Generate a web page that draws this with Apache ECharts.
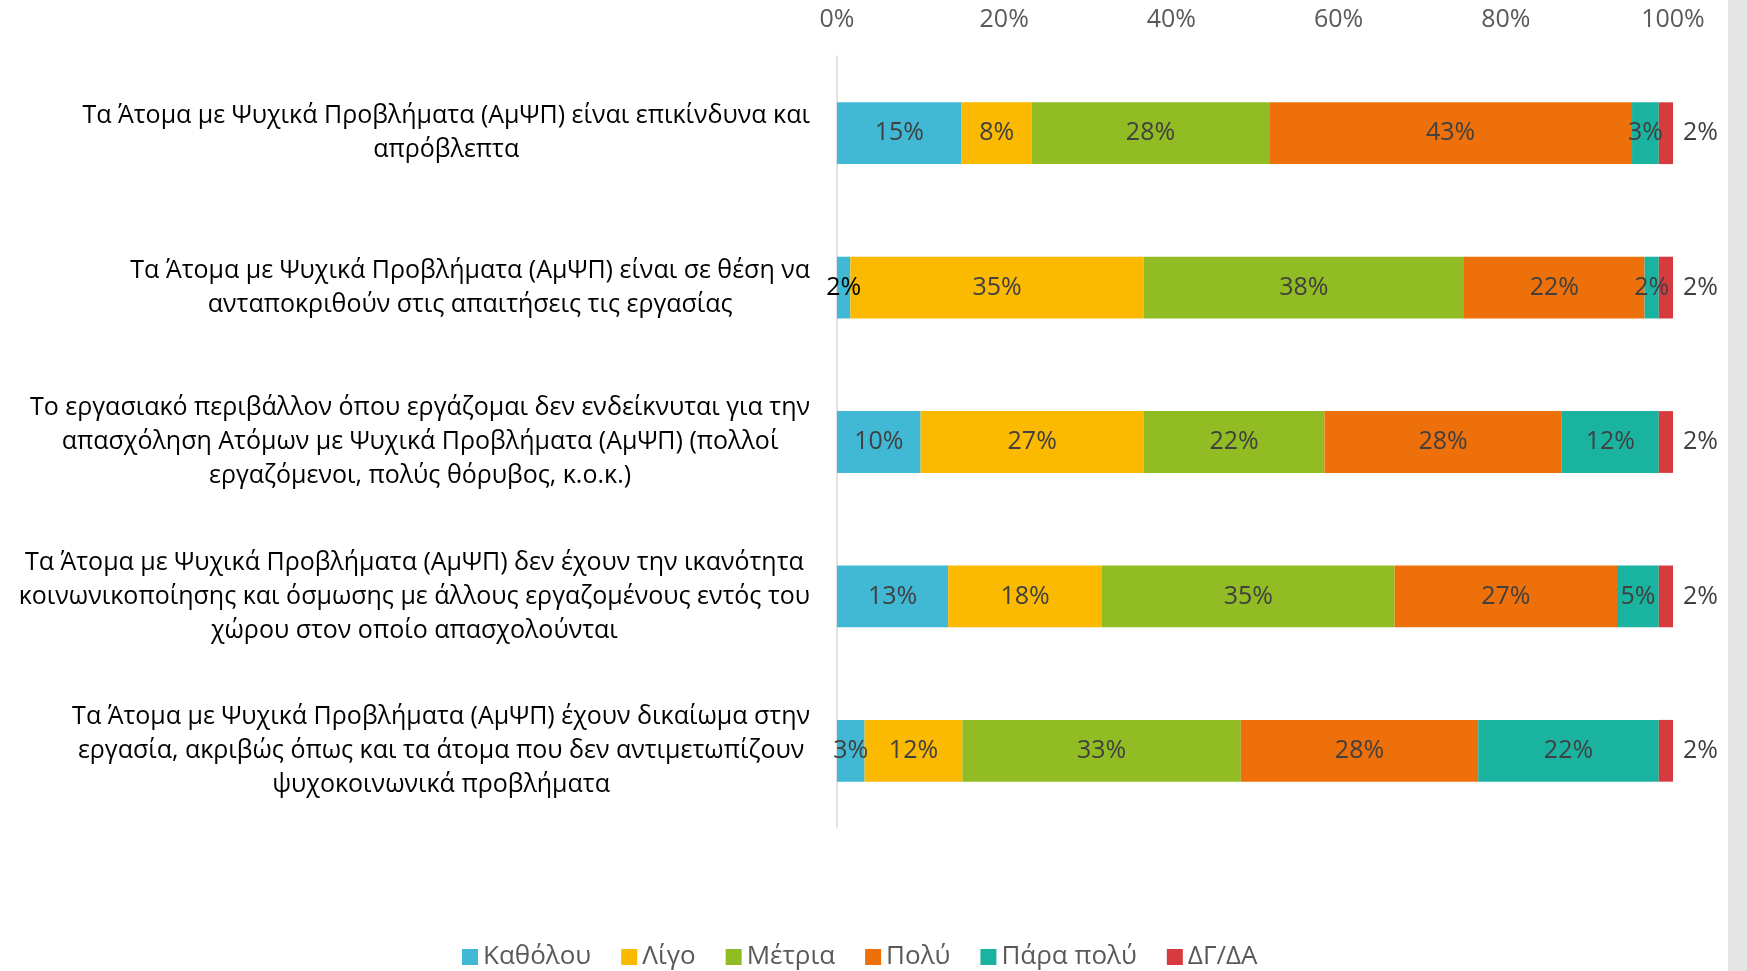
<!DOCTYPE html>
<html>
<head>
    <meta charset="utf-8">
    <title>ECharts</title>
    <script src="https://cdn.jsdelivr.net/npm/echarts@6/dist/echarts.min.js"></script>
    <style>
        html, body { margin: 0; padding: 0; background: #fff; }
    </style>
</head>
<body>
    <div id="main" style="width: 1747px;height:971px;"></div>
    <script type="text/javascript">
        // δεδομένα (ποσοστά ανά ερώτηση, από πάνω προς τα κάτω)
        var categories = [
            'Τα Άτομα με Ψυχικά Προβλήματα (ΑμΨΠ) είναι επικίνδυνα και\nαπρόβλεπτα',
            'Τα Άτομα με Ψυχικά Προβλήματα (ΑμΨΠ) είναι σε θέση να\nανταποκριθούν στις απαιτήσεις τις εργασίας',
            'Το εργασιακό περιβάλλον όπου εργάζομαι δεν ενδείκνυται για την\nαπασχόληση Ατόμων με Ψυχικά Προβλήματα (ΑμΨΠ) (πολλοί\nεργαζόμενοι, πολύς θόρυβος, κ.ο.κ.)',
            'Τα Άτομα με Ψυχικά Προβλήματα (ΑμΨΠ) δεν έχουν την ικανότητα\nκοινωνικοποίησης και όσμωσης με άλλους εργαζομένους εντός του\nχώρου στον οποίο απασχολούνται',
            'Τα Άτομα με Ψυχικά Προβλήματα (ΑμΨΠ) έχουν δικαίωμα στην\nεργασία, ακριβώς όπως και τα άτομα που δεν αντιμετωπίζουν\nψυχοκοινωνικά προβλήματα'
        ];
        var katholou = [14.9, 1.6, 10.0, 13.3, 3.3];
        var ligo = [8.4, 35.1, 26.7, 18.4, 11.7];
        var metria = [28.4, 38.3, 21.6, 35.0, 33.3];
        var poly = [43.4, 21.6, 28.4, 26.6, 28.4];
        var paraPoly = [3.2, 1.7, 11.6, 5.0, 21.6];
        var dgda = [1.7, 1.7, 1.7, 1.7, 1.7];
        var tickLabels = ['0%', '20%', '40%', '60%', '80%', '100%'];

        var seriesNames = ['Καθόλου', 'Λίγο', 'Μέτρια', 'Πολύ', 'Πάρα πολύ', 'ΔΓ/ΔΑ'];
        var seriesData = [katholou, ligo, metria, poly, paraPoly, dgda];
        var colors = ['#41b9d4', '#fbb900', '#92bc23', '#ee700a', '#1ab3a0', '#d73b40'];

        var font = "'Open Sans', sans-serif";

        var myChart = echarts.init(document.getElementById('main'));

        var series = seriesNames.map(function (name, i) {
            var last = i === seriesNames.length - 1;
            return {
                name: name,
                type: 'bar',
                stack: 'total',
                barWidth: '40%',
                data: seriesData[i],
                itemStyle: { color: colors[i] },
                label: {
                    show: true,
                    position: last ? 'right' : 'inside',
                    distance: 10,
                    fontFamily: font,
                    fontSize: 25,
                    color: '#404040',
                    formatter: function (p) { return Math.round(p.value) + '%'; }
                },
                emphasis: { disabled: true }
            };
        });
        // στο πρωτότυπο η ετικέτα 2% της 2ης γραμμής είναι μαύρη
        series[0].data = katholou.map(function (v, j) {
            return j === 1 ? { value: v, label: { color: '#000' } } : v;
        });

        option = {
            color: colors,
            animation: false,
            textStyle: { fontFamily: font },
            graphic: [{
                type: 'rect',
                right: 0,
                top: 0,
                shape: { width: 19, height: 971 },
                style: { fill: '#e6e6e6' }
            }],
            legend: {
                data: seriesNames,
                left: 457,
                bottom: -4,
                itemWidth: 16,
                itemHeight: 16,
                itemGap: 30,
                icon: 'rect',
                textStyle: { fontFamily: font, fontSize: 26, color: '#595959' }
            },
            grid: {
                left: 837,
                right: 74,
                top: 56,
                bottom: 143,
                containLabel: false
            },
            xAxis: {
                type: 'value',
                position: 'top',
                min: 0,
                max: 100,
                interval: 20,
                axisLine: { show: false },
                axisTick: { show: false },
                splitLine: { show: false },
                axisLabel: {
                    margin: 24,
                    fontSize: 25,
                    color: '#595959',
                    fontFamily: font,
                    formatter: function (v) { return tickLabels[v / 20]; }
                }
            },
            yAxis: {
                type: 'category',
                inverse: true,
                data: categories,
                axisLine: { show: true, lineStyle: { color: '#d9d9d9', width: 1.5 } },
                axisTick: { show: false },
                axisLabel: {
                    margin: 27,
                    align: 'right',
                    fontFamily: font,
                    fontSize: 25,
                    color: '#000',
                    formatter: function (v) {
                        return v.split('\n').map(function (s) { return '{c|' + s + '}'; }).join('\n');
                    },
                    rich: {
                        c: { align: 'center', fontSize: 25, lineHeight: 34, fontFamily: font, color: '#000' }
                    }
                }
            },
            series: series
        };

        myChart.setOption(option);
    </script>
</body>
</html>
